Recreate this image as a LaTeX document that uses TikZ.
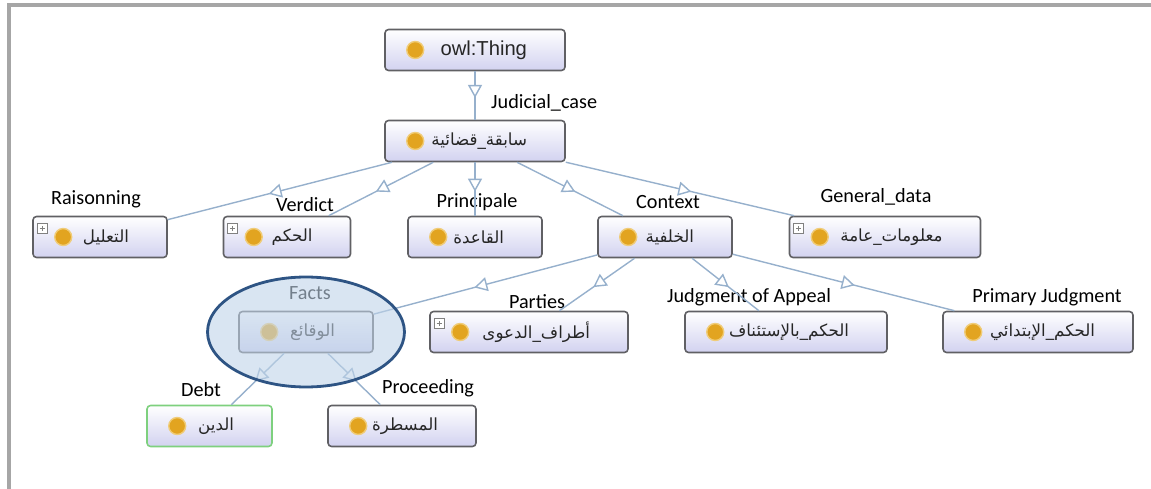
\documentclass[tikz,border=0pt]{standalone}
\usepackage{fontspec}
\setmainfont{Carlito}
\newfontfamily\arabicfont[Script=Arabic]{DejaVu Sans}
\newfontfamily\latinbox{Liberation Sans}
\TeXXeTstate=1
\usetikzlibrary{arrows.meta,decorations.markings,shapes.geometric,positioning}
\definecolor{boxgray}{RGB}{96,96,100}
\definecolor{boxlav}{RGB}{210,210,240}
\definecolor{edgeblue}{RGB}{150,176,204}
\definecolor{dotgold}{RGB}{226,164,32}
\definecolor{dotrim}{RGB}{240,204,120}
\definecolor{ringblue}{RGB}{46,84,132}
\definecolor{ringfill}{RGB}{192,212,233}
\definecolor{framegray}{RGB}{166,166,166}
\definecolor{debtgreen}{RGB}{126,208,126}
\begin{document}
\begin{tikzpicture}[
  x=0.02cm, y=-0.02cm,
  every node/.style={font=\fontsize{11.5}{13}\selectfont},
  cls/.style={
    draw=boxgray,
    line width=0.9pt,
    rounded corners=2pt,
    top color=white,
    bottom color=boxlav,
    minimum height=0.82cm,
    inner xsep=0.76cm,
    inner ysep=0pt,
    align=right,
    text=black!85,
    font=\arabicfont\fontsize{9.5}{11}\selectfont
  },
  lab/.style={anchor=base},
  dotmark/.style={fill=dotgold, draw=dotrim, line width=0.8pt},
  plusbox/.style={
    draw=gray, fill=white, line width=0.5pt,
    minimum size=0.2cm, inner sep=0pt,
    path picture={\draw[line width=0.7pt]
      ([xshift=1.3pt]path picture bounding box.west) -- ([xshift=-1.3pt]path picture bounding box.east)
      ([yshift=-1.3pt]path picture bounding box.north) -- ([yshift=1.3pt]path picture bounding box.south);}
  },
  isa/.style={
    draw=edgeblue, line width=0.8pt,
    postaction={decorate},
    decoration={markings, mark=at position 0.55 with {\arrow{Triangle[length=0.26cm,width=0.28cm,fill=white]}}}
  },
  group/.style={
    ellipse, draw=ringblue, line width=1.6pt,
    fill=ringfill, fill opacity=0.6,
    minimum width=3.94cm, minimum height=2.2cm
  }
]
\useasboundingbox (0,0) rectangle (1151,489);
\draw[framegray, line width=0.08cm] (9,489) -- (9,5.5) -- (1151,5.5);

% classes
\node[cls, text width=2.08cm, font=\latinbox\fontsize{11.5}{13}\selectfont] (thing) at (475,50) {owl:Thing};
\node[cls, text width=2.08cm] (sabiqa) at (475,141) {\beginR سابقة\_قضائية\endR};
\node[cls, text width=1.16cm] (raison) at (100,237) {\beginR التعليل\endR};
\node[cls, text width=1.02cm] (verdict) at (287,237) {\beginR الحكم\endR};
\node[cls, text width=1.16cm] (principale) at (475,237) {\beginR القاعدة\endR};
\node[cls, text width=1.16cm] (context) at (665,237) {\beginR الخلفية\endR};
\node[cls, text width=2.30cm] (general) at (885,237) {\beginR معلومات\_عامة\endR};
\node[cls, text width=1.16cm] (facts) at (306,332) {\beginR الوقائع\endR};
\node[cls, text width=2.44cm] (parties) at (529,332) {\beginR أطراف\_الدعوى\endR};
\node[cls, text width=2.52cm] (appeal) at (786,332) {\beginR الحكم\_بالإستئناف\endR};
\node[cls, text width=2.28cm] (primary) at (1038,332) {\beginR الحكم\_الإبتدائي\endR};
\node[cls, text width=0.98cm, draw=debtgreen] (debt) at (209.5,426) {\beginR الدين\endR};
\node[cls, text width=1.44cm] (proceeding) at (402,426) {\beginR المسطرة\endR};

\foreach \n in {thing,sabiqa,raison,verdict,principale,context,general,facts,parties,appeal,primary,debt,proceeding}
  \draw[dotmark] ([xshift=0.62cm]\n.west) circle[radius=0.17cm];
\foreach \n in {raison,verdict,general,parties}
  \node[plusbox] (plus\n) at ([xshift=0.2cm,yshift=-0.26cm]\n.north west) {};

% relation names
\node[lab, anchor=base west] (ljudicial) at (485,109) {Judicial\_case};
\node[lab] (lraison) at (96,205) {Raisonning};
\node[lab] (lverdict) at (305,212) {Verdict};
\node[lab] (lprincipale) at (477,208) {Principale};
\node[lab] (lcontext) at (668,209) {Context};
\node[lab] (lgeneral) at (876,203) {General\_data};
\node[lab] (lfacts) at (310,299) {Facts};
\node[lab] (lparties) at (537,308) {Parties};
\node[lab] (lappeal) at (749,302) {Judgment of Appeal};
\node[lab] (lprimary) at (1047,302) {Primary Judgment};
\node[lab] (ldebt) at (201,396) {Debt};
\node[lab] (lproceeding) at (428,393) {Proceeding};

% subclass links
\draw[isa] (thing) -- (sabiqa);
\foreach \c in {raison,verdict,principale,context,general}
  \draw[isa] (sabiqa) -- (\c);
\foreach \c in {facts,parties,appeal,primary}
  \draw[isa] (context) -- (\c);
\draw[isa] (facts) -- (debt);
\draw[isa] (facts) -- (proceeding);

\node[group] (factsgroup) at (306,332) {};
\end{tikzpicture}
\end{document}
